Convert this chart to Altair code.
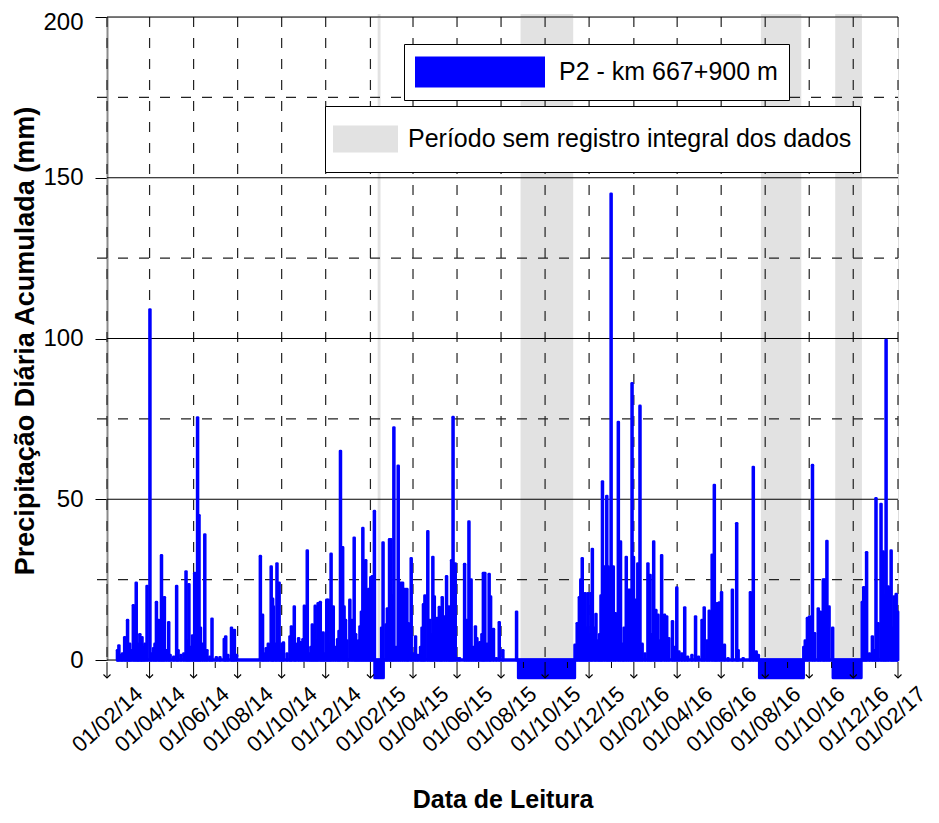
import altair as alt
import pandas as pd

# ---------------- data ----------------
rain_2014_dates = ["2014-02-15", "2014-02-17", "2014-02-20", "2014-02-22", "2014-02-25", "2014-02-27",
    "2014-03-01", "2014-03-03", "2014-03-04", "2014-03-06", "2014-03-09", "2014-03-11", "2014-03-13", "2014-03-15",
    "2014-03-16", "2014-03-18", "2014-03-20", "2014-03-21", "2014-03-23", "2014-03-25", "2014-03-28",
    "2014-04-01", "2014-04-03", "2014-04-06", "2014-04-08", "2014-04-10", "2014-04-13", "2014-04-15", "2014-04-17",
    "2014-04-19", "2014-04-21", "2014-04-24", "2014-04-27", "2014-04-29",
    "2014-05-04", "2014-05-08", "2014-05-10", "2014-05-14", "2014-05-18", "2014-05-21", "2014-05-23", "2014-05-25",
    "2014-05-27", "2014-05-30",
    "2014-06-02", "2014-06-04", "2014-06-06", "2014-06-08", "2014-06-10", "2014-06-13", "2014-06-16", "2014-06-19",
    "2014-06-23", "2014-06-26",
    "2014-07-02", "2014-07-07", "2014-07-13", "2014-07-15", "2014-07-18", "2014-07-23", "2014-07-25", "2014-07-27",
    "2014-07-30",
    "2014-09-01", "2014-09-04", "2014-09-06", "2014-09-09", "2014-09-12", "2014-09-16", "2014-09-18", "2014-09-19",
    "2014-09-22", "2014-09-24", "2014-09-27", "2014-09-29",
    "2014-10-01", "2014-10-03", "2014-10-08", "2014-10-12", "2014-10-14", "2014-10-18", "2014-10-20", "2014-10-24",
    "2014-10-27", "2014-10-30",
    "2014-11-01", "2014-11-05", "2014-11-08", "2014-11-10", "2014-11-12", "2014-11-14", "2014-11-16", "2014-11-18",
    "2014-11-20", "2014-11-23", "2014-11-25", "2014-11-27", "2014-11-29",
    "2014-12-02", "2014-12-04", "2014-12-06", "2014-12-08", "2014-12-11", "2014-12-14", "2014-12-17", "2014-12-19",
    "2014-12-21", "2014-12-24", "2014-12-26", "2014-12-28", "2014-12-30"]
rain_2014_values = [3, 4.5, 1.5, 2, 7, 3,
    12.4, 2, 5, 3, 17, 6, 24, 5,
    4, 8, 6, 7, 4, 5, 23,
    109, 2, 3.6, 5, 18, 12.4, 4, 32.5,
    8, 19.5, 3, 11.7, 1.5,
    1, 23, 3, 1.5, 2, 27.5, 6, 23.5,
    4, 7.6,
    27, 8, 75.4, 45, 10, 5, 39, 3,
    1, 12.8,
    0.8, 0.8, 6.5, 7.3, 1.5, 10, 7, 9.3,
    1.5,
    32.3, 14, 2, 3.6, 5, 29, 19, 16.6,
    5, 30, 24, 3,
    5, 5.4, 2, 7.3, 10.4, 16.6, 5, 6.7,
    5.5, 6.4,
    16.8, 34, 2, 4, 11, 3, 16.8, 6,
    17.6, 18, 3, 8.5, 2,
    18.7, 18.7, 5, 33, 16.6, 4, 6.4, 9,
    65, 35, 16.6, 12.4, 6]

rain_2015_dates = ["2015-01-03", "2015-01-06", "2015-01-09", "2015-01-11", "2015-01-13", "2015-01-15", "2015-01-17",
    "2015-01-19", "2015-01-21", "2015-01-23", "2015-01-25", "2015-01-27", "2015-01-29", "2015-01-31",
    "2015-02-01", "2015-02-03", "2015-02-06", "2015-02-16", "2015-02-18", "2015-02-22", "2015-02-24", "2015-02-27",
    "2015-03-01", "2015-03-03", "2015-03-05", "2015-03-08", "2015-03-11", "2015-03-14", "2015-03-17", "2015-03-20",
    "2015-03-23", "2015-03-25", "2015-03-29",
    "2015-04-01", "2015-04-04", "2015-04-07", "2015-04-11", "2015-04-13", "2015-04-15", "2015-04-17", "2015-04-21",
    "2015-04-24", "2015-04-26", "2015-04-28", "2015-04-30",
    "2015-05-04", "2015-05-07", "2015-05-09", "2015-05-11", "2015-05-14", "2015-05-17", "2015-05-20", "2015-05-22",
    "2015-05-24", "2015-05-26", "2015-05-29",
    "2015-06-01", "2015-06-04", "2015-06-11", "2015-06-14", "2015-06-17", "2015-06-20", "2015-06-23", "2015-06-26",
    "2015-06-28",
    "2015-07-02", "2015-07-05", "2015-07-07", "2015-07-09", "2015-07-12", "2015-07-15", "2015-07-17", "2015-07-21",
    "2015-07-25", "2015-07-29",
    "2015-08-03", "2015-08-22",
    "2015-11-11", "2015-11-14", "2015-11-17", "2015-11-19", "2015-11-21", "2015-11-23", "2015-11-25", "2015-11-27",
    "2015-11-29",
    "2015-12-01", "2015-12-03", "2015-12-05", "2015-12-08", "2015-12-10", "2015-12-13", "2015-12-15", "2015-12-17",
    "2015-12-19", "2015-12-22", "2015-12-25", "2015-12-27", "2015-12-29", "2015-12-31"]
rain_2015_values = [18.7, 12.4, 38, 8, 4.5, 6, 10.4,
    15, 41, 20, 31, 14, 22, 18,
    25.7, 26, 46.3, 10, 36.5, 11, 16, 37.5,
    37.5, 20, 72.3, 4, 60.4, 24, 24, 22,
    22, 11.4, 31.6,
    2, 7.3, 1.5, 4, 10, 17.3, 20, 40,
    12.4, 8, 32, 19.7,
    13, 16.4, 6, 19.5, 13.5, 26, 16.6, 10,
    31, 75.5, 30,
    0.5, 0.5, 29.8, 12.4, 43, 25, 4, 10.4,
    6.7,
    5.5, 8, 27, 27, 5, 26.7, 19.7, 9.6,
    0.5, 11.7,
    3, 15,
    4.7, 11.4, 19.5, 25, 31.6, 12, 20.7, 10,
    20.7,
    8, 20.7, 34.5, 10, 14.3, 6, 8, 20,
    55.5, 29, 51, 29, 20, 145]

rain_2016_dates = ["2016-01-03", "2016-01-06", "2016-01-10", "2016-01-13", "2016-01-16", "2016-01-18", "2016-01-21",
    "2016-01-24", "2016-01-27", "2016-01-29", "2016-01-31",
    "2016-02-03", "2016-02-06", "2016-02-09", "2016-02-12", "2016-02-16", "2016-02-20", "2016-02-23", "2016-02-25",
    "2016-02-28",
    "2016-03-02", "2016-03-05", "2016-03-08", "2016-03-10", "2016-03-14", "2016-03-17", "2016-03-20", "2016-03-25",
    "2016-03-28", "2016-03-31",
    "2016-04-03", "2016-04-07", "2016-04-11", "2016-04-15", "2016-04-21", "2016-04-26", "2016-04-30",
    "2016-05-05", "2016-05-08", "2016-05-12", "2016-05-15", "2016-05-19", "2016-05-22", "2016-05-24", "2016-05-26",
    "2016-05-29",
    "2016-06-01", "2016-06-05", "2016-06-10", "2016-06-16", "2016-06-22", "2016-06-24",
    "2016-07-01", "2016-07-11", "2016-07-15", "2016-07-19", "2016-07-22",
    "2016-09-23", "2016-09-25", "2016-09-28", "2016-10-01", "2016-10-05", "2016-10-08", "2016-10-13", "2016-10-16",
    "2016-10-20", "2016-10-22", "2016-10-25", "2016-10-28", "2016-11-02",
    "2016-12-13", "2016-12-15", "2016-12-17", "2016-12-19", "2016-12-23", "2016-12-27", "2016-12-30"]
rain_2016_values = [29, 14.5, 74, 36.8, 5, 10, 32,
    21.8, 21.8, 86, 32,
    18.7, 30, 79, 5, 2, 30, 26.4, 8,
    36.8,
    15.5, 14, 6, 32.5, 14, 13.5, 6.7, 12,
    4, 22.5,
    2.6, 2, 16.3, 1, 1.5, 13.5, 1,
    12.4, 16.3, 6, 15.3, 32.7, 54.4, 8, 17.6,
    17.8,
    21, 4.7, 0.5, 21.8, 42.5, 3,
    0.5, 21, 60, 2.6, 1.5,
    4, 6, 13, 13.5, 60.6, 8.3, 16, 15,
    25, 25, 37, 16.6, 10,
    18, 22.6, 8, 33.5, 2, 7.3, 3]

rain_2017_dates = ["2017-01-01", "2017-01-04", "2017-01-08", "2017-01-11", "2017-01-13", "2017-01-15", "2017-01-18",
    "2017-01-22", "2017-01-24", "2017-01-26", "2017-01-29", "2017-01-31"]
rain_2017_values = [50.3, 11.4, 48.5, 33.7, 20, 99.5, 22.8,
    34, 10, 19.7, 20.5, 15]

# periods without complete records (grey bands)
gap_starts = ["2015-02-11", "2015-08-28", "2016-07-26", "2016-11-06"]
gap_ends = ["2015-02-15", "2015-11-09", "2016-09-20", "2016-12-13"]

# no-data blocks drawn below zero
nodata_starts = ["2015-02-07", "2015-08-25", "2016-07-24", "2016-11-03"]
nodata_ends = ["2015-02-19", "2015-11-11", "2016-09-23", "2016-12-12"]
nodata_depth = [-5.5, -5.5, -5.5, -5.5]

record_start = ["2014-02-14"]
record_end = ["2017-02-01"]

major_ticks = ["2014-02-01", "2014-04-01", "2014-06-01", "2014-08-01", "2014-10-01", "2014-12-01",
               "2015-02-01", "2015-04-01", "2015-06-01", "2015-08-01", "2015-10-01", "2015-12-01",
               "2016-02-01", "2016-04-01", "2016-06-01", "2016-08-01", "2016-10-01", "2016-12-01",
               "2017-02-01"]
minor_ticks = ["2014-03-01", "2014-05-01", "2014-07-01", "2014-09-01", "2014-11-01",
               "2015-01-01", "2015-03-01", "2015-05-01", "2015-07-01", "2015-09-01", "2015-11-01",
               "2016-01-01", "2016-03-01", "2016-05-01", "2016-07-01", "2016-09-01", "2016-11-01",
               "2017-01-01"]
y_major = [0, 50, 100, 150, 200]
y_minor = [25, 75, 125, 175]

series_name = "P2 - km 667+900 m"
gap_name = "Período sem registro integral dos dados"

# ---------------- build tables ----------------
dates = rain_2014_dates + rain_2015_dates + rain_2016_dates + rain_2017_dates
values = rain_2014_values + rain_2015_values + rain_2016_values + rain_2017_values
rain = pd.DataFrame({"date": dates, "value": values})
rain["end"] = (pd.to_datetime(rain["date"]) + pd.Timedelta(days=1)).dt.strftime("%Y-%m-%d")
rain["serie"] = series_name

gaps = pd.DataFrame({"start": gap_starts, "end": gap_ends, "label": gap_name})
nodata = pd.DataFrame({"start": nodata_starts, "end": nodata_ends, "depth": nodata_depth})
base = pd.DataFrame({"start": record_start, "end": record_end})
majors = pd.DataFrame({"date": major_ticks})
minors = pd.DataFrame({"date": minor_ticks})
ymaj = pd.DataFrame({"v": y_major})
ymin = pd.DataFrame({"v": y_minor})


def dt(s):
    return alt.DateTime(year=int(s[:4]), month=int(s[5:7]), date=int(s[8:10]), utc=True)


W, H = 791, 643
FONT = "Liberation Sans"
BLUE = "#0000ff"

xscale = alt.Scale(type="utc", domain=[dt(major_ticks[0]), dt(major_ticks[-1])])
yscale = alt.Scale(domain=[0, 200], nice=False)

x_axis = alt.Axis(values=[dt(s) for s in major_ticks], format="%d/%m/%y", labelAngle=318,
                  labelAlign="center", labelBaseline="middle", labelPadding=59, labelFontSize=22,
                  labelOffset={"condition": {"test": "datum.value > utc(2017, 0, 15)", "value": -8},
                               "value": 0},
                  labelFont=FONT, labelColor="black", ticks=False, tickSize=0, domain=False, grid=False,
                  title="Data de Leitura", titleFont=FONT, titleFontSize=25, titleFontWeight="bold",
                  titleColor="black", titleX=W / 2, titleY=147, titleBaseline="alphabetic",
                  titleAlign="center", labelOverlap=False, labelFlush=False)
y_axis = alt.Axis(values=y_major, tickSize=12, tickColor="black", tickWidth=1, labelFontSize=24,
                  labelOffset={"condition": {"test": "datum.value >= 200", "value": 5}, "value": 0},
                  labelFont=FONT, labelColor="black", labelPadding=12, domainColor="#8a8a8a",
                  domainWidth=2, grid=False, title="Precipitação Diária Acumulada (mm)",
                  titleFont=FONT, titleFontSize=27, titleFontWeight="bold", titleColor="black",
                  titleAngle=270, titleX=-74, titleY=H / 2 + 2, titleBaseline="alphabetic",
                  titleAlign="center")

legend_series = alt.Legend(title=None, orient="none", legendX=297, legendY=27, direction="vertical",
                           symbolType="M-1,-0.2266L1,-0.2266L1,0.2266L-1,0.2266Z", symbolSize=16384,
                           symbolStrokeColor=BLUE, symbolStrokeWidth=2, symbolFillColor=BLUE,
                           labelFontSize=25, labelFont=FONT, labelColor="black", labelOffset=14,
                           labelLimit=800, padding=11, clipHeight=34, strokeColor="black",
                           fillColor="white", labelBaseline="middle")
legend_gap = alt.Legend(title=None, orient="none", legendX=218, legendY=89, direction="vertical",
                        symbolType="M-1,-0.415L1,-0.415L1,0.415L-1,0.415Z", symbolSize=4225,
                        symbolStrokeWidth=0, symbolFillColor="#e2e2e2",
                        labelFontSize=25, labelFont=FONT, labelColor="black", labelOffset=10,
                        labelLimit=800, padding=8, clipHeight=50, strokeColor="black",
                        fillColor="white", labelBaseline="middle")

bands = alt.Chart(gaps).mark_rect().encode(
    x=alt.X("start:T", scale=xscale, axis=x_axis),
    x2="end:T",
    y=alt.value(-3),
    y2=alt.value(H),
    fill=alt.Fill("label:N", scale=alt.Scale(domain=[gap_name], range=["#e2e2e2"]), legend=legend_gap),
)

vgrid = alt.Chart(majors).mark_rule(color="#222222", strokeWidth=1.2, strokeDash=[10, 11]).encode(
    x=alt.X("date:T", scale=xscale)
)
hgrid_dash = alt.Chart(ymin).mark_rule(color="#222222", strokeWidth=1.2, strokeDash=[10, 11]).encode(
    y=alt.Y("v:Q", scale=yscale), x=alt.value(-10), x2=alt.value(W)
)
hgrid_solid = alt.Chart(ymaj).mark_rule(color="black", strokeWidth=1.2).encode(
    y=alt.Y("v:Q", scale=yscale, axis=y_axis)
)
baseline = alt.Chart(base).mark_rule(color=BLUE, strokeWidth=3.5).encode(
    x=alt.X("start:T", scale=xscale), x2="end:T", y=alt.datum(0)
)
bars = alt.Chart(rain).mark_bar(stroke=BLUE, strokeWidth=2.8, strokeJoin="round").encode(
    x=alt.X("date:T", scale=xscale),
    x2="end:T",
    y=alt.Y("value:Q", scale=yscale, stack=None),
    y2=alt.datum(0),
    color=alt.Color("serie:N", scale=alt.Scale(domain=[series_name], range=[BLUE]), legend=legend_series),
)
blocks = alt.Chart(nodata).mark_bar(color=BLUE, stroke=BLUE, strokeWidth=3, strokeJoin="round").encode(
    x=alt.X("start:T", scale=xscale), x2="end:T", y=alt.Y("depth:Q", scale=yscale), y2=alt.datum(0)
)
minor_marks = alt.Chart(minors).mark_rule(color="black", strokeWidth=1).encode(
    x=alt.X("date:T", scale=xscale), y=alt.value(H + 2), y2=alt.value(H + 8)
)
major_marks = alt.Chart(majors).mark_rule(color="black", strokeWidth=1).encode(
    x=alt.X("date:T", scale=xscale), y=alt.value(H + 2), y2=alt.value(H + 18)
)
arrows = alt.Chart(majors).mark_point(shape="M-1,-1L0,0L1,-1", size=49, filled=False, stroke="black",
                                      strokeWidth=1.1, opacity=1).encode(
    x=alt.X("date:T", scale=xscale), y=alt.value(H + 18)
)

chart = alt.layer(bands, vgrid, hgrid_dash, hgrid_solid, baseline, bars, blocks,
                  minor_marks, major_marks, arrows).properties(
    width=W, height=H,
    padding={"left": 99, "top": 9, "right": 33, "bottom": 153},
    autosize=alt.AutoSizeParams(type="none"),
).configure_view(stroke=None).configure(font=FONT)

chart.save("out.html", embed_options={"renderer": "svg", "actions": False})
